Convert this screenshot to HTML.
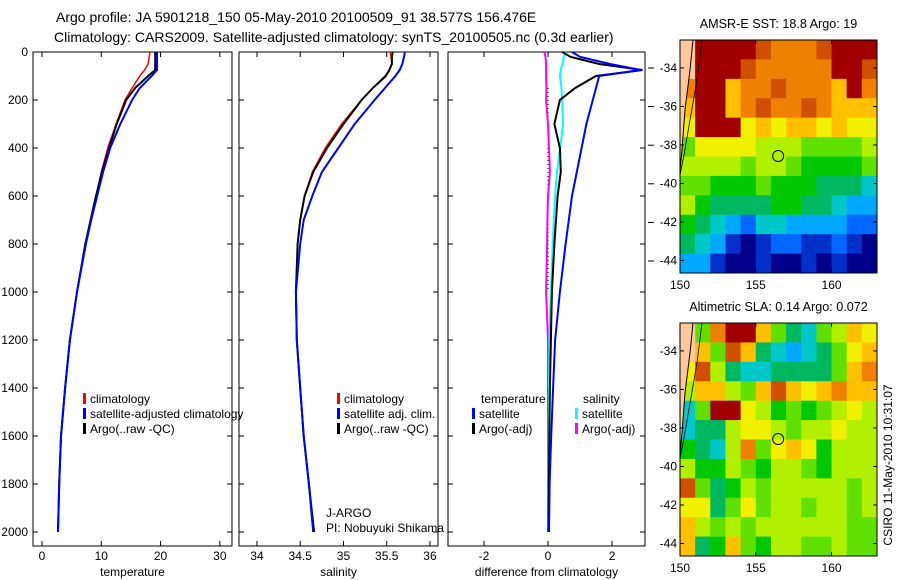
<!DOCTYPE html>
<html><head><meta charset="utf-8"><style>
body{margin:0;background:#fff;}
svg{display:block;font-family:"Liberation Sans",sans-serif;font-size:12px;}
</style></head><body>
<svg id="fig" width="900" height="580" viewBox="0 0 900 580">
<text x="56" y="22" font-size="14">Argo profile: JA 5901218_150 05-May-2010 20100509_91 38.577S 156.476E</text>
<text x="54" y="42" font-size="14">Climatology: CARS2009. Satellite-adjusted climatology: synTS_20100505.nc (0.3d earlier)</text>
<text transform="translate(892,465) rotate(-90)" text-anchor="middle">CSIRO 11-May-2010 10:31:07</text>
<g id="g"></g>
</svg>
<script>
const depths=[0,20,50,75,100,150,200,300,400,500,600,700,800,1000,1200,1400,1600,1800,2000];
const tempClim=[18.2,18.1,17.9,17.3,16.5,15.2,14.0,12.5,11.1,10.0,9.1,8.2,7.3,5.9,4.7,3.9,3.2,2.9,2.7];
const tempSat=[19.4,19.4,19.4,19.4,18.5,16.5,15.2,13.2,11.5,10.3,9.3,8.3,7.4,5.9,4.7,3.9,3.2,2.9,2.7];
const tempArgo=[19.1,19.1,19.1,19.1,17.9,15.7,14.2,12.6,11.3,10.1,9.1,8.2,7.3,5.9,4.7,3.9,3.2,2.9,2.7];
const salClim=[35.54,35.55,35.56,35.53,35.48,35.34,35.21,34.98,34.79,34.64,34.55,34.5,34.47,34.45,34.46,34.5,34.54,34.6,34.65];
const salSat=[35.71,35.70,35.68,35.65,35.6,35.48,35.36,35.13,34.94,34.75,34.64,34.54,34.5,34.45,34.46,34.5,34.54,34.6,34.65];
const salArgo=[35.57,35.56,35.56,35.53,35.49,35.34,35.21,35.0,34.81,34.65,34.55,34.5,34.47,34.45,34.46,34.5,34.54,34.6,34.66];
const dTempSat=[0.75,1.0,1.94,2.9,1.6,1.5,1.4,1.2,1.05,0.9,0.75,0.65,0.55,0.37,0.22,0.16,0.1,0.05,0.03];
const dTempArgo=[0.45,0.7,1.6,2.95,1.5,0.85,0.37,0.2,0.37,0.4,0.3,0.25,0.2,0.12,0.09,0.06,0.04,0.03,0.02];
const dSalSat=[0.56,0.5,0.45,0.4,0.37,0.42,0.44,0.47,0.38,0.28,0.22,0.18,0.15,0.09,0.04,0.03,0.02,0.02,0.02];
const dSalArgo=[-0.12,-0.08,-0.06,-0.06,-0.06,-0.05,-0.06,0.0,0.03,0.06,0.0,-0.02,-0.03,-0.06,0.0,0.0,0.0,0.0,0.0];
const yTicks=[0,200,400,600,800,1000,1200,1400,1600,1800,2000];
const tTicks=[0,10,20,30];
const sTicks=[34,34.5,35,35.5,36];
const dTicks=[-2,0,2];
const sstGrid=[
[14,13,13,13,13,12,11,11,11,12,13,13,13],
[14,13,13,13,12,11,11,11,11,11,13,13,12],
[11,13,13,10,11,11,12,11,11,11,10,13,11],
[10,13,13,10,11,12,11,11,12,11,10,10,10],
[9,13,13,13,9,10,9,10,10,9,10,9,9],
[7,9,9,9,9,8,8,8,7,7,7,7,8],
[8,8,8,8,7,8,8,7,6,6,6,6,7],
[7,7,6,6,6,7,6,6,6,5,5,5,4],
[8,6,5,5,5,5,6,6,5,5,4,3,3],
[6,5,4,3,2,4,4,3,3,3,3,2,2],
[5,4,3,1,0,1,2,2,1,1,2,1,0],
[3,3,1,0,0,1,0,0,1,0,1,0,0]];
const slaGrid=[
[14,7,11,13,13,10,7,5,4,7,8,10,9],
[14,10,7,12,10,5,4,3,4,5,7,9,10],
[9,12,8,5,4,4,5,5,5,5,7,10,11],
[8,10,10,8,7,10,12,10,9,10,11,10,10],
[4,7,13,13,9,8,6,7,6,7,8,9,8],
[4,5,5,8,9,9,8,7,8,8,9,8,8],
[6,5,4,8,11,7,9,10,9,6,8,8,8],
[8,6,6,8,7,6,8,8,7,6,8,8,8],
[12,7,5,6,8,7,8,8,8,8,8,7,8],
[9,9,5,7,9,7,8,8,7,8,8,7,8],
[10,8,7,8,7,8,8,8,8,8,8,7,7],
[10,5,6,10,7,6,8,8,7,7,8,7,7]];
const latTicks=[-34,-36,-38,-40,-42,-44];
const lonTicks=[150,155,160];
const argoLon=156.476, argoLat=-38.577;

const pal=['#00008c','#0030c8','#0068ff','#00a8ff','#00c8c8','#00b860','#00c800','#60e000','#b0f000','#f0f000','#ffc000','#f08000','#d05000','#a00000','#ffc89a'];
const NS='http://www.w3.org/2000/svg';
const G=document.getElementById('g');
function el(t,a,p){const e=document.createElementNS(NS,t);for(const k in a)e.setAttribute(k,a[k]);(p||G).appendChild(e);return e;}
const Y=d=>52+d*0.24;
function panel(name,x0,x1,xmin,xmax,xt,xlabel,leftLabels){
  const X=v=>x0+(v-xmin)/(xmax-xmin)*(x1-x0);
  const g=el('g',{});
  
  
  el('rect',{x:x0,y:52,width:x1-x0,height:494,fill:'none',stroke:'#000','stroke-width':1},g);
  yTicks.forEach(d=>{
    el('line',{x1:x0,x2:x0+5,y1:Y(d),y2:Y(d),stroke:'#000'},g);
    el('line',{x1:x1-5,x2:x1,y1:Y(d),y2:Y(d),stroke:'#000'},g);
    if(leftLabels){const t=el('text',{x:x0-5,y:Y(d)+4,'text-anchor':'end'},g);t.textContent=d;
      
      }
  });
  xt.forEach(v=>{
    el('line',{x1:X(v),x2:X(v),y1:546,y2:541,stroke:'#000'},g);
    el('line',{x1:X(v),x2:X(v),y1:52,y2:57,stroke:'#000'},g);
    const t=el('text',{x:X(v),y:560,'text-anchor':'middle'},g);t.textContent=v;
    
    
  });
  const l=el('text',{x:(x0+x1)/2,y:576,'text-anchor':'middle'},g);l.textContent=xlabel;
  
  
  return {X,g};
}
function line(p,vals,col,w,name){
  const pts=vals.map((v,i)=>p.X(v).toFixed(1)+','+Y(depths[i]).toFixed(1)).join(' ');
  const e=el('polyline',{points:pts,fill:'none',stroke:col,'stroke-width':w},p.g);
  
  
}
function legend(g,x,y,col,txt){
  el('rect',{x:x,y:y-10,width:3,height:11,fill:col},g);
  const t=el('text',{x:x+7,y:y},g);t.textContent=txt;
  
  
}
const p1=panel('temperature',33,232,-1.52,32.05,tTicks,'temperature',true);
line(p1,tempClim,'#f00',1.5,'temp-climatology-line');
line(p1,tempArgo,'#000',2,'temp-argo-line');
line(p1,tempSat,'#00f',2,'temp-satellite-line');
legend(p1.g,83,403,'#f00','climatology');
legend(p1.g,83,418,'#00f','satellite-adjusted climatology');
legend(p1.g,83,433,'#000','Argo(..raw -QC)');
const p2=panel('salinity',239,438,33.792,36.093,sTicks,'salinity',false);
line(p2,salClim,'#f00',1.5,'sal-climatology-line');
line(p2,salArgo,'#000',2,'sal-argo-line');
line(p2,salSat,'#00f',2,'sal-satellite-line');
legend(p2.g,337,403,'#f00','climatology');
legend(p2.g,337,418,'#00f','satellite adj. clim.');
legend(p2.g,337,433,'#000','Argo(..raw -QC)');
let t=el('text',{x:326,y:517},p2.g);t.textContent='J-ARGO';
t=el('text',{x:326,y:532},p2.g);t.textContent='PI: Nobuyuki Shikama';
const p3=panel('difference',448,645,-3.125,3.03,dTicks,'difference from climatology',false);
el('line',{x1:p3.X(0),x2:p3.X(0),y1:Y(150),y2:Y(1000),stroke:'#000','stroke-dasharray':'1,3'},p3.g);
line(p3,dSalArgo,'#f0f',2,'diff-sal-argo-line');
line(p3,dSalSat,'#0ff',2,'diff-sal-satellite-line');
line(p3,dTempArgo,'#000',2,'diff-temp-argo-line');
line(p3,dTempSat,'#00f',2,'diff-temp-satellite-line');
t=el('text',{x:481,y:403},p3.g);t.textContent='temperature';
legend(p3.g,472,418,'#00f','satellite');
legend(p3.g,472,433,'#000','Argo(-adj)');
t=el('text',{x:583,y:403},p3.g);t.textContent='salinity';
legend(p3.g,575,418,'#0ff','satellite');
legend(p3.g,575,433,'#f0f','Argo(-adj)');
latTicks.forEach((v,i)=>{const yy=68+(-34-v)*19.3;el('line',{x1:648,x2:654,y1:yy,y2:yy,stroke:'#000'});});

function map(name,top,grid,title){
  const x0=680,x1=877,bot=top+233;
  const MX=lon=>x0+(lon-150)*(x1-x0)/13;
  const MY=lat=>top+(-32.55-lat)*(bot-top)/12.1;
  const g=el('g',{});
  
  
  const rows=grid.length,cols=grid[0].length,ch=(bot-top)/rows,cw=(x1-x0)/cols;
  grid.forEach((r,i)=>r.forEach((c,j)=>{
    const e=el('rect',{x:x0+j*cw,y:top+i*ch,width:cw+0.5,height:ch+0.5,fill:pal[c]},g);
    
    
  }));
  el('polygon',{points:`${x0},${top} ${x0+13},${top} ${x0+10},${top+30} ${x0+5},${top+70} ${x0+2},${top+110} ${x0},${top+130}`,fill:pal[14]},g);
  el('polyline',{points:`${x0+13},${top} ${x0+10},${top+30} ${x0+5},${top+70} ${x0+2},${top+110} ${x0},${top+130}`,fill:'none',stroke:'#000','stroke-width':1},g);
  el('polyline',{points:`${x0+22},${top} ${x0+17},${top+40} ${x0+10},${top+80} ${x0+4},${top+115} ${x0},${top+135}`,fill:'none',stroke:'#000','stroke-width':0.8},g);
  el('rect',{x:x0,y:top,width:x1-x0,height:bot-top,fill:'none',stroke:'#000'},g);
  latTicks.forEach(v=>{
    el('line',{x1:x0,x2:x0+4,y1:MY(v),y2:MY(v),stroke:'#000'},g);
    el('line',{x1:x1-4,x2:x1,y1:MY(v),y2:MY(v),stroke:'#000'},g);
    const t=el('text',{x:x0-3,y:MY(v)+4,'text-anchor':'end'},g);t.textContent=v;
    
    
  });
  lonTicks.forEach(v=>{
    el('line',{x1:MX(v),x2:MX(v),y1:bot,y2:bot-4,stroke:'#000'},g);
    el('line',{x1:MX(v),x2:MX(v),y1:top,y2:top+4,stroke:'#000'},g);
    const t=el('text',{x:MX(v),y:bot+16,'text-anchor':'middle'},g);t.textContent=v;
    
    
  });
  const c=el('circle',{cx:MX(argoLon),cy:MY(argoLat),r:5.5,fill:'none',stroke:'#000'},g);
  
  
  const tt=el('text',{x:(x0+x1)/2,y:top-12,'text-anchor':'middle','font-size':12.6},g);tt.textContent=title;
  
  
}
map('sst',40,sstGrid,'AMSR-E SST: 18.8 Argo: 19');
map('sla',323,slaGrid,'Altimetric SLA: 0.14 Argo: 0.072');
</script>
</body></html>
